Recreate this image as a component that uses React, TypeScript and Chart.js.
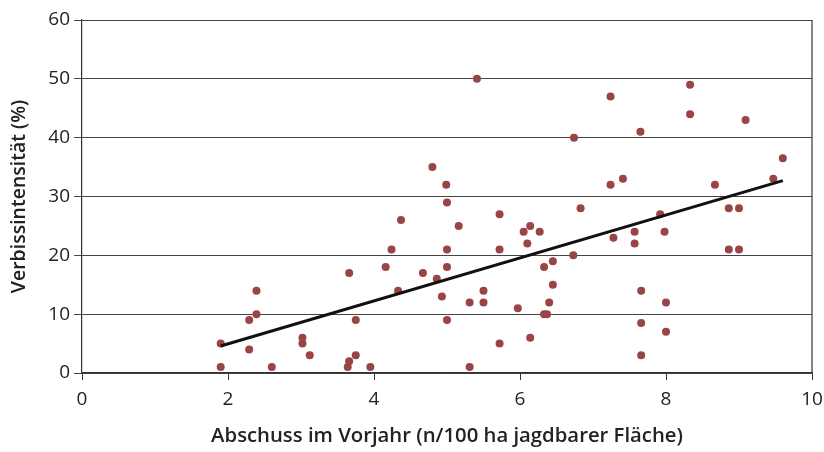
import React, { useEffect, useRef } from "react";
import { Chart, registerables } from "chart.js";

Chart.register(...registerables);

const shotX = [
  1.9, 1.9, 2.29, 2.29, 2.39, 2.39, 2.6, 3.02, 3.02, 3.12, 3.66, 3.64, 3.66, 3.75, 3.75, 3.95,
  4.16, 4.24, 4.37, 4.33, 5.41, 7.24, 6.74, 4.8, 4.99, 7.24, 7.41, 5.0, 6.83, 5.72, 5.16, 6.14,
  6.05, 6.27, 6.1, 5.0, 5.72, 7.28, 6.73, 5.0, 6.45, 6.33, 4.67, 4.86, 6.45, 4.93, 5.5, 5.31,
  5.5, 6.4, 5.97, 6.33, 6.37, 5.0, 6.14, 5.72, 5.31, 8.33, 8.33, 9.09, 7.65, 9.6, 8.67, 9.47,
  8.86, 9.0, 7.92, 7.57, 7.98, 7.57, 8.86, 9.0, 7.66, 8.0, 7.66, 8.0, 7.66,
];
const browseY = [
  5, 1, 9, 4, 14, 10, 1, 6, 5, 3, 17, 1, 2, 3, 9, 1,
  18, 21, 26, 14, 50, 47, 40, 35, 32, 32, 33, 29, 28, 27, 25, 25,
  24, 24, 22, 21, 21, 23, 20, 18, 19, 18, 17, 16, 15, 13, 14, 12,
  12, 12, 11, 10, 10, 9, 6, 5, 1, 49, 44, 43, 41, 36.5, 32, 33,
  28, 28, 27, 24, 24, 22, 21, 21, 14, 12, 8.5, 7, 3,
];
const trendX = [1.9, 9.6];
const trendY = [4.6, 32.7];

const xTicks = [0, 2, 4, 6, 8, 10];
const yTicks = [0, 10, 20, 30, 40, 50, 60];

const FONT = "'Open Sans'";

export default function App() {
  const ref = useRef<HTMLCanvasElement | null>(null);
  useEffect(() => {
    document.body.style.margin = "0";
    const canvas = ref.current;
    if (!canvas) return;
    const rightBorder = {
      id: "rightBorder",
      afterDraw(chart: any) {
        const { ctx, chartArea } = chart;
        ctx.save();
        ctx.strokeStyle = "#333";
        ctx.lineWidth = 1.2;
        ctx.beginPath();
        ctx.moveTo(chartArea.right, chartArea.top);
        ctx.lineTo(chartArea.right, chartArea.bottom);
        ctx.stroke();
        ctx.restore();
      },
    };
    const chart = new Chart(canvas, {
      type: "scatter",
      data: {
        datasets: [
          {
            type: "line",
            data: trendX.map((x, i) => ({ x, y: trendY[i] })),
            borderColor: "#111",
            borderWidth: 3,
            pointRadius: 0,
            fill: false,
          } as any,
          {
            data: shotX.map((x, i) => ({ x, y: browseY[i] })),
            backgroundColor: "#9a4446",
            borderColor: "#9a4446",
            pointRadius: 4,
            borderWidth: 0,
          },
        ],
      },
      options: {
        animation: false,
        responsive: false,
        layout: { padding: { top: 20, right: 12, left: 4, bottom: 0 } },
        plugins: { legend: { display: false }, tooltip: { enabled: false } },
        scales: {
          x: {
            type: "linear",
            min: 0,
            max: 10,
            afterBuildTicks: (s: any) => {
              s.ticks = xTicks.map((v) => ({ value: v }));
            },
            afterFit: (s: any) => {
              s.height = 79;
              s.paddingRight = 0;
              s.paddingLeft = 0;
            },
            ticks: { color: "#222", font: { family: FONT, size: 19 }, padding: 8 },
            grid: { drawOnChartArea: false, drawTicks: true, tickLength: 7, color: "#333" },
            border: { display: true, color: "#333", width: 1.2 },
            title: {
              display: true,
              text: "Abschuss im Vorjahr (n/100 ha jagdbarer Fläche)",
              color: "#222",
              font: { family: FONT, size: 20.3, weight: "600" },
              padding: { top: 4 },
            },
          },
          y: {
            type: "linear",
            min: 0,
            max: 60,
            afterBuildTicks: (s: any) => {
              s.ticks = yTicks.map((v) => ({ value: v }));
            },
            afterFit: (s: any) => {
              s.width = 78;
              s.paddingTop = 0;
              s.paddingBottom = 0;
            },
            ticks: { color: "#222", font: { family: FONT, size: 19 }, padding: 4 },
            grid: { drawOnChartArea: true, drawTicks: true, tickLength: 8, color: "#444", lineWidth: 1 },
            border: { display: true, color: "#333", width: 1.2 },
            title: {
              display: true,
              text: "Verbissintensität (%)",
              color: "#222",
              font: { family: FONT, size: 19.5, weight: "600" },
              padding: { bottom: 2 },
            },
          },
        },
      },
      plugins: [rightBorder],
    });
    return () => chart.destroy();
  }, []);
  return (
    <div style={{ width: 824, height: 452 }}>
      <canvas ref={ref} width={824} height={452} style={{ display: "block" }} />
    </div>
  );
}
